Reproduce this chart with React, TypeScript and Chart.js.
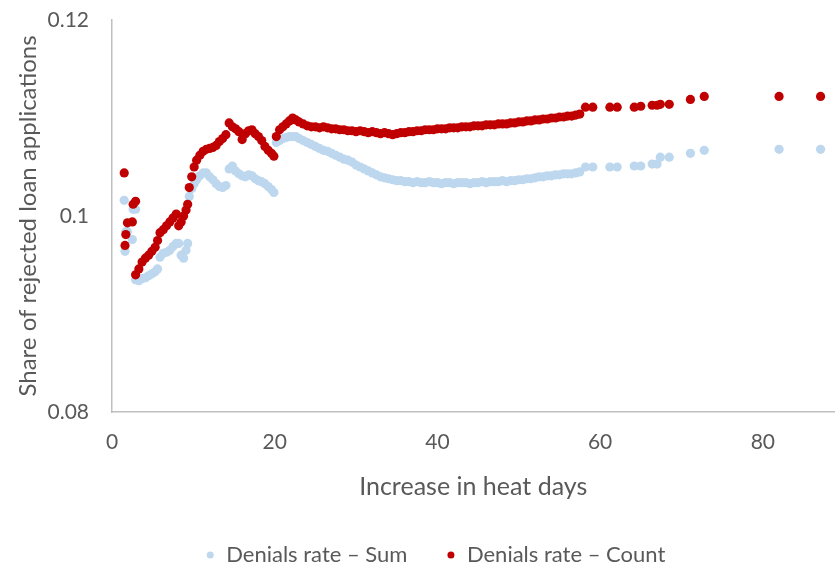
import React, { useEffect, useRef } from "react";
import { Chart, registerables } from "chart.js";

Chart.register(...registerables);

// Increase in heat days (shared x values of both series)
const heatDays = [
  1.5, 1.6, 1.7, 1.9, 2.5, 2.6, 2.9,
  2.9, 3.3, 3.7, 4.1, 4.5, 4.9, 5.3, 5.6, 5.9, 6.3, 6.7, 7.1, 7.5, 7.9, 8.2, 8.5, 8.8, 9.1, 9.3,
  9.5, 9.8, 10.1, 10.4, 10.8, 11.2, 11.6, 12.0, 12.4, 12.8, 13.2, 13.6, 14.0, 14.4, 14.8, 15.2,
  15.6, 16.0, 16.4, 16.8, 17.2, 17.6, 18.0, 18.4, 18.8, 19.2, 19.6, 19.9,
  20.2, 20.6, 21.0, 21.4, 21.8, 22.2, 22.6, 23.0, 23.5, 24.0, 24.5,
  25, 25.5, 26, 26.5, 27, 27.5, 28, 28.5, 29, 29.5,
  30, 30.5, 31, 31.5, 32, 32.5, 33, 33.5, 34, 34.5,
  35, 35.5, 36, 36.5, 37, 37.5, 38, 38.5, 39, 39.5,
  40, 40.5, 41, 41.5, 42, 42.5, 43, 43.5, 44, 44.5,
  45, 45.5, 46, 46.5, 47, 47.5, 48, 48.5, 49, 49.5,
  50, 50.5, 51, 51.5, 52, 52.5, 53, 53.5, 54, 54.5,
  55, 55.5, 56, 56.5, 57, 57.5,
  58.2, 59.1, 61.2, 62.1, 64.2, 65.0, 66.4, 67.0, 67.4, 68.5, 71.1, 72.8, 82.0, 87.1,
];

// Denials rate – Sum
const denialsSum = [
  0.1016, 0.0964, 0.0984, 0.0984, 0.0976, 0.1007, 0.1007,
  0.0935, 0.0934, 0.0936, 0.0937, 0.0939, 0.0941, 0.0943, 0.0946, 0.0958, 0.0962, 0.0963, 0.0965, 0.0969, 0.0972, 0.0972, 0.0960, 0.0957, 0.0965, 0.0972,
  0.1020, 0.1028, 0.1033, 0.1037, 0.1041, 0.1044, 0.1044, 0.1040, 0.1037, 0.1033, 0.1030, 0.1029, 0.1031, 0.1048, 0.1051, 0.1046,
  0.1043, 0.1041, 0.1040, 0.1042, 0.1041, 0.1038, 0.1036, 0.1035, 0.1033, 0.1030, 0.1027, 0.1024,
  0.1075, 0.1077, 0.1079, 0.1080, 0.1081, 0.1081, 0.1081, 0.1079, 0.1077, 0.1075, 0.1073,
  0.1071, 0.1069, 0.1067, 0.1066, 0.1064, 0.1062, 0.1060, 0.1058, 0.1057, 0.1055,
  0.1052, 0.1050, 0.1048, 0.1046, 0.1044, 0.1042, 0.1040, 0.1039, 0.1038, 0.1037,
  0.1036, 0.1036, 0.1035, 0.1035, 0.1034, 0.1035, 0.1034, 0.1034, 0.1035, 0.1034,
  0.1034, 0.1033, 0.1034, 0.1034, 0.1033, 0.1034, 0.1034, 0.1034, 0.1033, 0.1034,
  0.1034, 0.1035, 0.1034, 0.1035, 0.1035, 0.1035, 0.1036, 0.1035, 0.1036, 0.1036,
  0.1037, 0.1037, 0.1038, 0.1038, 0.1039, 0.1040, 0.1040, 0.1041, 0.1041, 0.1042,
  0.1042, 0.1043, 0.1043, 0.1043, 0.1044, 0.1045,
  0.1050, 0.1050, 0.1050, 0.1050, 0.1051, 0.1051, 0.1053, 0.1053, 0.1060, 0.1060, 0.1064, 0.1067, 0.1068, 0.1068,
];

// Denials rate – Count
const denialsCount = [
  0.1044, 0.0970, 0.0981, 0.0993, 0.0994, 0.1012, 0.1015,
  0.0940, 0.0946, 0.0953, 0.0957, 0.0960, 0.0964, 0.0968, 0.0975, 0.0983, 0.0986, 0.0990, 0.0994, 0.0998, 0.1002, 0.0990, 0.0994, 0.1000, 0.1006, 0.1012,
  0.1029, 0.1040, 0.1050, 0.1057, 0.1062, 0.1066, 0.1068, 0.1069, 0.1070, 0.1072, 0.1076, 0.1079, 0.1083, 0.1095, 0.1091, 0.1089,
  0.1086, 0.1078, 0.1084, 0.1087, 0.1088, 0.1084, 0.1081, 0.1077, 0.1071, 0.1067, 0.1064, 0.1061,
  0.1081, 0.1088, 0.1091, 0.1094, 0.1097, 0.1100, 0.1098, 0.1096, 0.1094, 0.1092, 0.1091,
  0.1091, 0.1090, 0.1091, 0.1090, 0.1089, 0.1089, 0.1088, 0.1088, 0.1087, 0.1087,
  0.1086, 0.1087, 0.1086, 0.1085, 0.1086, 0.1085, 0.1084, 0.1085, 0.1084, 0.1083,
  0.1084, 0.1085, 0.1085, 0.1086, 0.1086, 0.1087, 0.1087, 0.1088, 0.1088, 0.1088,
  0.1089, 0.1089, 0.1089, 0.1090, 0.1090, 0.1090, 0.1091, 0.1091, 0.1091, 0.1092,
  0.1092, 0.1092, 0.1093, 0.1093, 0.1093, 0.1094, 0.1094, 0.1094, 0.1095, 0.1095,
  0.1096, 0.1096, 0.1097, 0.1097, 0.1098, 0.1098, 0.1099, 0.1099, 0.1100, 0.1100,
  0.1101, 0.1101, 0.1102, 0.1102, 0.1103, 0.1104,
  0.1111, 0.1111, 0.1111, 0.1111, 0.1111, 0.1112, 0.1113, 0.1113, 0.1114, 0.1114, 0.1119, 0.1122, 0.1122, 0.1122,
];

const seriesLabels = ["Denials rate – Sum", "Denials rate – Count"];
const seriesColors = ["#BDD7EE", "#C00000"];
const xTickValues = [0, 20, 40, 60, 80];
const yTickValues = [0.08, 0.1, 0.12];
const xTitle = "Increase in heat days";
const yTitle = "Share of rejected loan applications";

const FONT = "Lato, 'Open Sans', sans-serif";
const TEXT_COLOR = "#595959";
const AXIS_COLOR = "#BFBFBF";

const bottomLegend = {
  id: "bottomLegend",
  afterDraw(chart: any) {
    const ctx = chart.ctx;
    ctx.save();
    ctx.font = `22px ${FONT}`;
    ctx.textBaseline = "middle";
    ctx.textAlign = "left";
    const dotR = 3.5;
    const dotToText = 16;
    const gap = 40;
    const items = chart.data.datasets.map((ds: any) => ({
      label: ds.label,
      color: ds.backgroundColor,
      w: ctx.measureText(ds.label).width,
    }));
    const total =
      items.reduce((s: number, it: any) => s + dotR + dotToText + it.w, 0) + gap * (items.length - 1);
    const centerX = 436;
    const y = 555;
    let x = centerX - total / 2;
    items.forEach((it: any) => {
      ctx.fillStyle = it.color;
      ctx.beginPath();
      ctx.arc(x + dotR, y, dotR, 0, Math.PI * 2);
      ctx.fill();
      ctx.fillStyle = TEXT_COLOR;
      ctx.fillText(it.label, x + dotR + dotToText, y);
      x += dotR + dotToText + it.w + gap;
    });
    ctx.restore();
  },
};

export default function App() {
  const canvasRef = useRef<HTMLCanvasElement | null>(null);

  useEffect(() => {
    if (!canvasRef.current) return;
    const seriesValues = [denialsSum, denialsCount];
    const chart = new Chart(canvasRef.current, {
      type: "scatter",
      data: {
        datasets: seriesValues.map((vals, si) => ({
          label: seriesLabels[si],
          data: heatDays.map((x, i) => ({ x, y: vals[i] })),
          backgroundColor: seriesColors[si],
          borderColor: seriesColors[si],
          borderWidth: 0,
          pointRadius: 4.6,
          pointHoverRadius: 4.6,
          order: si === 0 ? 1 : 0,
        })),
      },
      options: {
        responsive: false,
        animation: false,
        layout: { padding: { top: 20, right: 1, bottom: 47, left: 0 } },
        plugins: {
          legend: { display: false },
          tooltip: { enabled: false },
        },
        scales: {
          x: {
            type: "linear",
            min: 0,
            max: 88.8,
            grid: { display: false, drawTicks: false },
            border: { display: true, color: AXIS_COLOR, width: 1.5 },
            afterBuildTicks: (s: any) => {
              s.ticks = xTickValues.map((v) => ({ value: v }));
            },
            afterFit: (s: any) => {
              s.height = 108;
              s.paddingLeft = 0;
              s.paddingRight = 0;
              s.paddingTop = 0;
              s.paddingBottom = 0;
            },
            ticks: {
              padding: 18,
              color: TEXT_COLOR,
              font: { family: FONT, size: 21 },
              callback: (v: any) => String(v),
            },
            title: {
              display: true,
              text: xTitle,
              color: TEXT_COLOR,
              font: { family: FONT, size: 25 },
              padding: { top: 10, bottom: 18 },
            },
          },
          y: {
            type: "linear",
            min: 0.08,
            max: 0.12,
            grid: { display: false, drawTicks: false },
            border: { display: true, color: AXIS_COLOR, width: 1.5 },
            afterBuildTicks: (s: any) => {
              s.ticks = yTickValues.map((v) => ({ value: v }));
            },
            afterFit: (s: any) => {
              s.width = 112;
              s.paddingTop = 0;
              s.paddingBottom = 0;
              s.paddingLeft = 0;
              s.paddingRight = 0;
            },
            ticks: {
              padding: 23,
              color: TEXT_COLOR,
              font: { family: FONT, size: 21 },
              callback: (v: any) => String(v),
            },
            title: {
              display: true,
              text: yTitle,
              color: TEXT_COLOR,
              font: { family: FONT, size: 24 },
              padding: { top: 14, bottom: 0 },
            },
          },
        },
      },
      plugins: [bottomLegend],
    });
    return () => chart.destroy();
  }, []);

  return (
    <div style={{ position: "absolute", left: 0, top: 0, width: 839, height: 567, background: "#fff" }}>
      <canvas ref={canvasRef} width={839} height={567} style={{ display: "block" }} />
    </div>
  );
}
